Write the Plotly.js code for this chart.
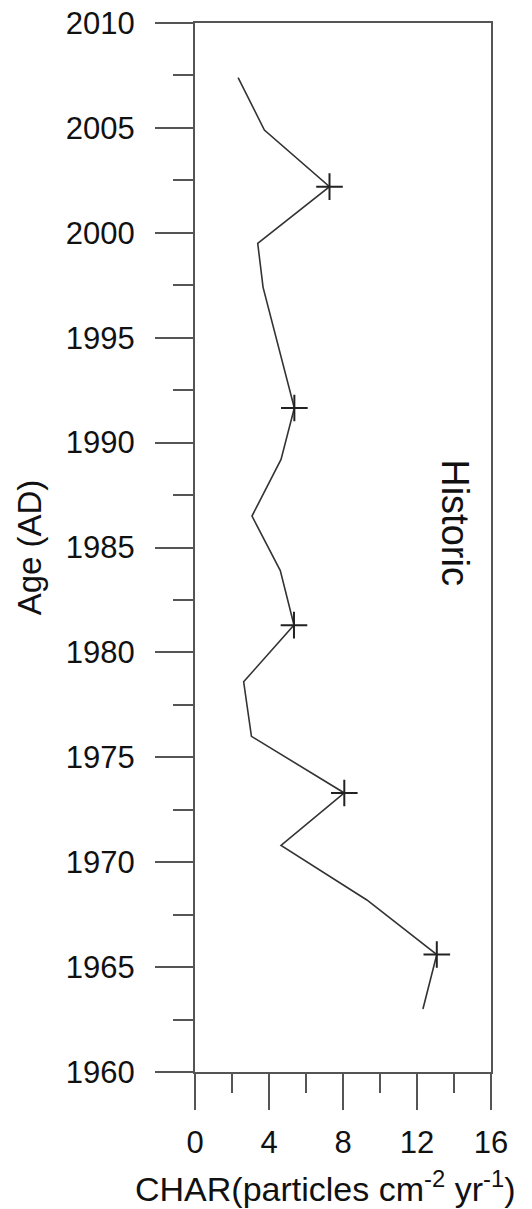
<!DOCTYPE html>
<html>
<head>
<meta charset="utf-8">
<script src="https://cdn.plot.ly/plotly-3.0.1.min.js"></script>
<style>
  html, body { margin: 0; padding: 0; background: #fff; }
  #chart { width: 532px; height: 1209px; }
</style>
</head>
<body>
<div id="chart"></div>
<script>
// Sample ages (AD) down the core and charcoal accumulation rate at each
const ages = [2007.4, 2004.9, 2002.2, 1999.5, 1997.4, 1991.65, 1989.2, 1986.5, 1983.9,
              1981.3, 1978.6, 1976.0, 1973.3, 1970.8, 1968.2, 1965.6, 1963.0];
const charRates = [2.33, 3.75, 7.27, 3.39, 3.68, 5.37, 4.65, 3.08, 4.61,
                   5.35, 2.63, 3.05, 8.07, 4.65, 9.29, 13.07, 12.32];

// Levels flagged with a cross
const datedAges = [2002.2, 1991.65, 1981.3, 1973.3, 1965.6];

// Axis ticks
const ageTicks = [1960, 1965, 1970, 1975, 1980, 1985, 1990, 1995, 2000, 2005, 2010];
const charTicks = [0, 4, 8, 12, 16];

const zoneLabel = 'Historic';

const dated = ages
  .map((a, i) => ({ a, c: charRates[i] }))
  .filter(p => datedAges.includes(p.a));

const FONT = '"Liberation Sans", Arial, sans-serif';
const AXIS_COLOR = '#555';

const traces = [
  {
    x: charRates, y: ages, type: 'scatter', mode: 'lines',
    line: { color: '#333', width: 1.6 },
    hoverinfo: 'skip', showlegend: false
  },
  {
    x: dated.map(p => p.c), y: dated.map(p => p.a), type: 'scatter', mode: 'markers',
    marker: { symbol: 'cross-thin', size: 19, color: '#222', line: { color: '#222', width: 2 } },
    hoverinfo: 'skip', showlegend: false
  }
];

const layout = {
  width: 532, height: 1209,
  margin: { l: 195, r: 41, t: 23, b: 137 },
  paper_bgcolor: '#fff', plot_bgcolor: '#fff',
  font: { family: FONT, color: '#111' },
  xaxis: {
    range: [0, 16], tickvals: charTicks, ticktext: charTicks.map(String),
    ticks: 'outside', ticklen: 36, tickwidth: 2, tickcolor: AXIS_COLOR,
    minor: { dtick: 2, ticks: 'outside', ticklen: 19, tickwidth: 2, tickcolor: AXIS_COLOR, showgrid: false },
    showline: true, linecolor: AXIS_COLOR, linewidth: 2, mirror: true,
    showgrid: false, zeroline: false,
    tickfont: { size: 31, family: FONT, color: '#111' },
    ticklabelstandoff: 6
  },
  yaxis: {
    range: [1960, 2010], tickvals: ageTicks, ticktext: ageTicks.map(String),
    ticks: 'outside', ticklen: 38, tickwidth: 2, tickcolor: AXIS_COLOR,
    minor: { dtick: 2.5, ticks: 'outside', ticklen: 20, tickwidth: 2, tickcolor: AXIS_COLOR, showgrid: false },
    showline: true, linecolor: AXIS_COLOR, linewidth: 2, mirror: true,
    showgrid: false, zeroline: false,
    tickfont: { size: 31, family: FONT, color: '#111' },
    ticklabelstandoff: 14,
    title: { text: 'Age (AD)', font: { size: 33, family: FONT, color: '#111' }, standoff: 14 }
  },
  annotations: [
    {
      text: 'CHAR(particles cm<sup>-2</sup> yr<sup>-1</sup>)',
      xref: 'paper', yref: 'paper', x: 0.44, y: 0, yshift: -138,
      xanchor: 'center', yanchor: 'bottom', showarrow: false,
      font: { size: 34, family: FONT, color: '#111' }
    },
    {
      text: zoneLabel, xref: 'x', yref: 'y', x: 14.06, y: 1986.2,
      textangle: 90, showarrow: false, xanchor: 'center', yanchor: 'middle',
      font: { size: 38, family: FONT, color: '#111' }
    }
  ]
};

Plotly.newPlot('chart', traces, layout, { staticPlot: true, displayModeBar: false });
</script>
</body>
</html>
